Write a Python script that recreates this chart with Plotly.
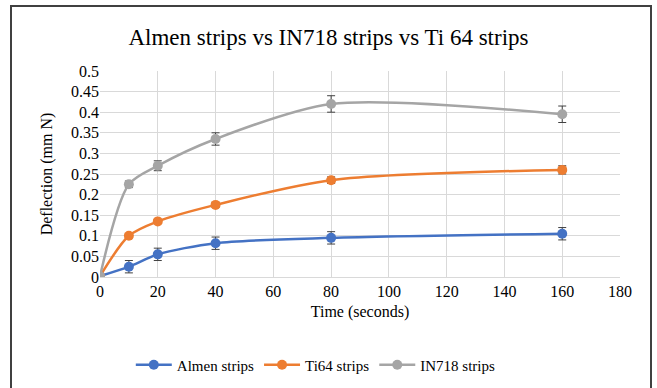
import plotly.graph_objects as go

time = [0, 10, 20, 40, 80, 160]
almen = [0.002, 0.025, 0.055, 0.082, 0.095, 0.105]
almen_err = [0.002, 0.015, 0.015, 0.015, 0.015, 0.015]
ti64 = [0.002, 0.100, 0.135, 0.175, 0.235, 0.260]
ti64_err = [0.002, 0.005, 0.005, 0.006, 0.008, 0.01]
in718 = [0.002, 0.225, 0.270, 0.335, 0.420, 0.395]
in718_err = [0.002, 0.008, 0.012, 0.015, 0.02, 0.02]

series = [
    ("Almen strips", almen, almen_err, "#4472C4"),
    ("Ti64 strips", ti64, ti64_err, "#ED7D31"),
    ("IN718 strips", in718, in718_err, "#A5A5A5"),
]

fig = go.Figure()
for name, ys, err, col in series:
    fig.add_trace(go.Scatter(
        x=time, y=ys, name=name, mode="lines+markers",
        line=dict(color=col, width=2.5, shape="spline", smoothing=0.8),
        marker=dict(color=col, size=10),
        error_y=dict(type="data", array=err, visible=True, color="#404040", thickness=1, width=4),
    ))

font = "Liberation Serif"
fig.update_layout(
    width=657, height=388,
    margin=dict(l=100, r=37, t=71, b=111, autoexpand=False),
    paper_bgcolor="white", plot_bgcolor="white",
    font=dict(family=font, size=16, color="#000000"),
    title=dict(text="Almen strips vs IN718 strips vs Ti 64 strips", x=0.5, xanchor="center",
               y=1 - 37 / 388, yanchor="middle", font=dict(size=23, family=font)),
    showlegend=True,
    legend=dict(orientation="h", x=0.415, xanchor="center", yref="container",
                y=1 - 365 / 388, yanchor="middle", itemwidth=36,
                font=dict(family=font, size=15, color="#000000")),
    xaxis=dict(range=[0, 180], dtick=20, showgrid=True, gridcolor="#d9d9d9", zeroline=False,
               showline=True, linecolor="#d9d9d9", ticks="", automargin=False,
               tickfont=dict(family=font, size=16, color="#000000"),
               title=dict(text="Time (seconds)", font=dict(size=16, family=font), standoff=6)),
    yaxis=dict(range=[0, 0.5], dtick=0.05, showgrid=True, gridcolor="#d9d9d9", zeroline=False,
               showline=False, ticks="", tickformat="~g", automargin=False,
               tickfont=dict(family=font, size=16, color="#000000"),
               title=dict(text="Deflection (mm N)", font=dict(size=16, family=font), standoff=14)),
)
fig.add_shape(type="rect", xref="paper", yref="paper",
              x0=(11 - 100) / 520, x1=(651 - 100) / 520,
              y0=(277 - 400) / 206, y1=(277 - 6) / 206,
              line=dict(color="#404040", width=2), fillcolor="rgba(0,0,0,0)", layer="below")
fig.write_html("out.html", config={"displayModeBar": False},
               post_script="document.body.style.margin='0';")
